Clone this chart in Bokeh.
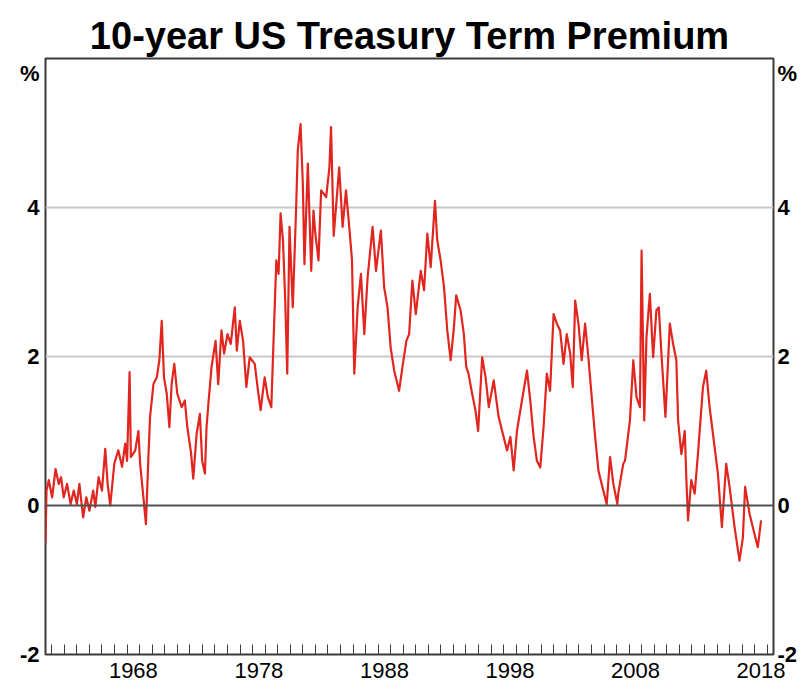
from bokeh.plotting import figure
from bokeh.models import FixedTicker, CustomJSTickFormatter, LinearAxis, Span, Range1d, ColumnDataSource
from bokeh.embed import file_html
from bokeh.resources import INLINE

# Decimal dates (mid-year tick labels) and ACM 10-year term premium, per cent
years = [
    1961.50, 1961.58, 1961.76, 1962.03, 1962.30, 1962.56, 1962.74, 1962.95, 1963.22, 1963.50,
    1963.75, 1964.00, 1964.20, 1964.50, 1964.75, 1965.00, 1965.30, 1965.47, 1965.73, 1966.00,
    1966.26, 1966.45, 1966.66, 1966.98, 1967.30, 1967.60, 1967.85, 1968.00, 1968.20, 1968.30,
    1968.65, 1968.90, 1969.04, 1969.30, 1969.50, 1969.70, 1969.83, 1970.10, 1970.37, 1970.57,
    1970.76, 1970.94, 1971.16, 1971.37, 1971.55, 1971.76, 1972.00, 1972.35, 1972.60, 1972.80,
    1973.10, 1973.27, 1973.54, 1973.80, 1973.98, 1974.20, 1974.33, 1974.50, 1974.73, 1975.05,
    1975.26, 1975.52, 1975.73, 1976.00, 1976.26, 1976.58, 1976.74, 1976.98, 1977.24, 1977.50,
    1977.77, 1978.17, 1978.43, 1978.64, 1978.96, 1979.22, 1979.49, 1979.65, 1979.89, 1980.07,
    1980.23, 1980.42, 1980.60, 1980.76, 1980.94, 1981.20, 1981.47, 1981.60, 1981.82, 1982.00,
    1982.13, 1982.40, 1982.67, 1982.85, 1983.00, 1983.25, 1983.46, 1983.86, 1984.12, 1984.25,
    1984.46, 1984.90, 1985.17, 1985.44, 1985.70, 1985.92, 1986.10, 1986.37, 1986.63, 1986.90,
    1987.16, 1987.56, 1987.83, 1988.22, 1988.48, 1988.75, 1989.00, 1989.28, 1989.67, 1989.94,
    1990.25, 1990.47, 1990.73, 1991.00, 1991.40, 1991.66, 1991.92, 1992.19, 1992.53, 1992.71,
    1992.98, 1993.25, 1993.51, 1993.78, 1994.04, 1994.22, 1994.57, 1994.83, 1995.02, 1995.20,
    1995.49, 1995.75, 1995.97, 1996.29, 1996.56, 1996.82, 1997.21, 1997.60, 1998.00, 1998.27,
    1998.54, 1998.80, 1999.06, 1999.46, 1999.86, 2000.12, 2000.39, 2000.65, 2000.92, 2001.18,
    2001.44, 2001.70, 2001.98, 2002.24, 2002.50, 2002.77, 2003.03, 2003.30, 2003.51, 2003.70,
    2003.96, 2004.22, 2004.49, 2004.75, 2005.02, 2005.29, 2005.55, 2005.81, 2006.21, 2006.48,
    2006.74, 2007.06, 2007.13, 2007.53, 2007.67, 2008.06, 2008.33, 2008.59, 2008.86, 2008.99,
    2009.20, 2009.38, 2009.65, 2009.91, 2010.17, 2010.36, 2010.57, 2010.89, 2011.24, 2011.50,
    2011.76, 2011.90, 2012.16, 2012.43, 2012.56, 2012.69, 2012.95, 2013.22, 2013.48, 2013.88,
    2014.14, 2014.41, 2014.81, 2015.07, 2015.39, 2015.73, 2016.00, 2016.40, 2016.79, 2017.06,
    2017.24, 2017.59, 2017.98, 2018.25, 2018.51,
]
premium = [
    -0.50, 0.20, 0.34, 0.11, 0.49, 0.29, 0.38, 0.11, 0.29, 0.02,
    0.20, 0.02, 0.29, -0.16, 0.11, -0.07, 0.20, -0.02, 0.38, 0.20,
    0.76, 0.29, 0.00, 0.56, 0.74, 0.52, 0.83, 0.60, 1.79, 0.65,
    0.74, 1.00, 0.56, 0.11, -0.25, 0.65, 1.19, 1.63, 1.72, 1.95,
    2.48, 1.72, 1.50, 1.05, 1.63, 1.90, 1.50, 1.32, 1.41, 1.05,
    0.70, 0.36, 0.96, 1.23, 0.60, 0.43, 1.05, 1.41, 1.86, 2.21,
    1.63, 2.35, 2.04, 2.30, 2.17, 2.66, 2.08, 2.48, 2.21, 1.59,
    1.99, 1.90, 1.54, 1.28, 1.72, 1.45, 1.32, 2.12, 3.29, 3.11,
    3.92, 3.56, 2.75, 1.77, 3.74, 2.66, 4.00, 4.77, 5.12, 4.32,
    3.24, 4.59, 3.15, 3.96, 3.65, 3.29, 4.23, 4.14, 4.54, 5.08,
    3.62, 4.54, 3.74, 4.23, 3.74, 3.29, 1.77, 2.66, 3.11, 2.30,
    3.06, 3.74, 3.15, 3.69, 2.93, 2.66, 2.12, 1.81, 1.54, 1.86,
    2.21, 2.30, 3.02, 2.57, 3.15, 2.89, 3.65, 3.20, 4.09, 3.56,
    3.29, 2.93, 2.35, 1.95, 2.39, 2.82, 2.62, 2.30, 1.86, 1.77,
    1.50, 1.28, 1.00, 1.99, 1.72, 1.32, 1.68, 1.19, 0.92, 0.74,
    0.92, 0.47, 1.00, 1.41, 1.81, 1.41, 0.92, 0.60, 0.51, 1.05,
    1.77, 1.54, 2.57, 2.44, 2.35, 1.90, 2.30, 2.04, 1.59, 2.75,
    2.44, 1.95, 2.44, 1.99, 1.45, 0.92, 0.47, 0.29, 0.02, 0.65,
    0.29, 0.02, 0.16, 0.56, 0.60, 1.14, 1.95, 1.45, 1.32, 3.42,
    1.14, 2.26, 2.84, 1.99, 2.62, 2.66, 2.04, 1.19, 2.44, 2.17,
    1.95, 1.14, 0.69, 1.00, 0.34, -0.20, 0.34, 0.16, 0.69, 1.59,
    1.81, 1.32, 0.78, 0.43, -0.29, 0.56, 0.25, -0.29, -0.74, -0.43,
    0.25, -0.11, -0.38, -0.56, -0.20,
]

x_label_years = [1968, 1978, 1988, 1998, 2008, 2018]
x_minor_years = list(range(1962, 2020))
y_ticks = [-2, 0, 2, 4]
y_grid = [2, 4]
unit_label_pos = 5.8

FONT = "Liberation Sans"

p = figure(width=800, height=696, output_backend="svg", toolbar_location=None,
           x_range=Range1d(1961.5, 2019.5), y_range=Range1d(-2, 6))
p.min_border_left = 45
p.min_border_right = 24
p.min_border_top = 58
p.min_border_bottom = 42
p.background_fill_color = "white"
p.border_fill_color = "white"
p.outline_line_color = "#3a3a3a"
p.outline_line_width = 2
p.outline_line_alpha = 1

p.title.text = "10-year US Treasury Term Premium"
p.title.align = "center"
p.title.text_font = FONT
p.title.text_font_size = "38px"
p.title.text_font_style = "bold"
p.title.text_color = "black"
p.title.standoff = 4

# grid
p.xgrid.visible = False
p.ygrid.ticker = FixedTicker(ticks=y_grid)
p.ygrid.grid_line_color = "#c8c8c8"
p.ygrid.grid_line_width = 2

p.add_layout(Span(location=0, dimension="width", line_color="#505050", line_width=2))

src = ColumnDataSource(dict(x=years, y=premium))
p.line("x", "y", source=src, line_color="#e0261f", line_width=2.2, line_join="round")

# x axis
xa = p.xaxis[0]
xa.ticker = FixedTicker(ticks=[y + 0.5 for y in x_label_years], minor_ticks=x_minor_years)
xa.formatter = CustomJSTickFormatter(code="return String(Math.floor(tick));")
xa.major_tick_in = 0
xa.major_tick_out = 0
xa.minor_tick_in = 10
xa.minor_tick_out = 0
xa.minor_tick_line_color = "#3a3a3a"
xa.minor_tick_line_width = 1
xa.axis_line_color = None
xa.major_label_text_font = FONT
xa.major_label_text_font_size = "22px"
xa.major_label_text_color = "black"
xa.major_label_standoff = 8

yfmt_code = "return tick > 5 ? '%' : String(tick);"

def style_y(ax):
    ax.ticker = FixedTicker(ticks=y_ticks + [unit_label_pos])
    ax.formatter = CustomJSTickFormatter(code=yfmt_code)
    ax.major_tick_in = 0
    ax.major_tick_out = 0
    ax.minor_tick_in = 0
    ax.minor_tick_out = 0
    ax.axis_line_color = None
    ax.major_label_text_font = FONT
    ax.major_label_text_font_size = "22px"
    ax.major_label_text_font_style = "bold"
    ax.major_label_text_color = "black"
    ax.major_label_standoff = 6

style_y(p.yaxis[0])
ra = LinearAxis()
style_y(ra)
ra.major_label_standoff = 4
p.add_layout(ra, "right")

open("out.html", "w").write(file_html(p, INLINE))
